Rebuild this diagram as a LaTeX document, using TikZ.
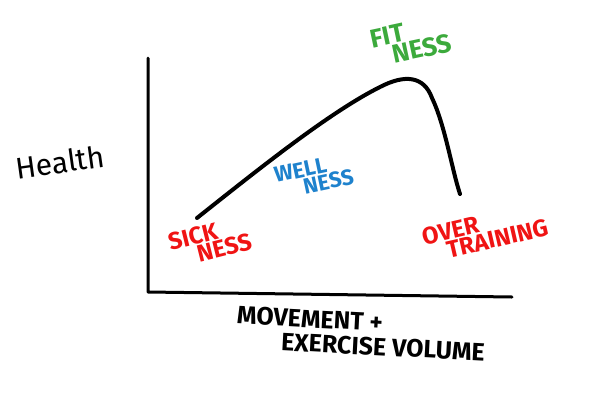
\documentclass[tikz,border=0pt]{standalone}
\usepackage{fontspec}
\setmainfont{Fira Sans}
\definecolor{fitgreen}{RGB}{60,170,60}
\definecolor{wellblue}{RGB}{30,130,205}
\definecolor{sickred}{RGB}{240,20,20}
\begin{document}
\begin{tikzpicture}[x=1pt,y=-1pt,
  lab/.style={font=\fontsize{26}{18}\selectfont\bfseries, inner sep=0pt, align=left},
  blk/.style={font=\fontsize{25}{25}\selectfont\bfseries, inner sep=0pt},
  ax/.style={line width=3pt, line cap=round, line join=round},
  crv/.style={line width=4pt, line cap=round}]
\useasboundingbox (0,0) rectangle (600,400);
\fill[white] (0,0) rectangle (600,400);
% axes
\coordinate (top) at (148,58);
\coordinate (orig) at (148,292);
\coordinate (xend) at (512,297);
\draw[ax] (top) -- (orig) -- (xend);
% curve
\coordinate (c0) at (197,218);
\coordinate (c1) at (380,87);
\coordinate (c2) at (432,98);
\coordinate (c3) at (460,194);
\draw[crv] (c0) .. controls (260,168) and (330,112) .. (c1)
  .. controls (405,74) and (424,76) .. (c2)
  .. controls (445,125) and (452,170) .. (c3);
% labels
\node[lab, text=fitgreen, rotate=12] (fitness) at (411,41) {FIT\\\hspace*{18pt}NESS};
\node[lab, text=wellblue, rotate=12, font=\fontsize{22}{17}\selectfont\bfseries] (wellness) at (314,176) {WELL\\\hspace*{26pt}NESS};
\node[lab, text=sickred, rotate=14, font=\fontsize{24}{17}\selectfont\bfseries] (sickness) at (210,242) {SICK\\\hspace*{25pt}NESS};
\node[lab, text=sickred, rotate=13, font=\fontsize{24}{17}\selectfont\bfseries] (overtraining) at (485,232) {OVER\\\hspace*{21pt}TRAINING};
\node[blk, rotate=8, font=\fontsize{30}{30}\selectfont] (health) at (60,162) {Health};
\node[blk, rotate=-3] (move) at (310,319) {MOVEMENT +};
\node[blk, rotate=-3] (exer) at (383,347) {EXERCISE VOLUME};
\end{tikzpicture}
\end{document}
